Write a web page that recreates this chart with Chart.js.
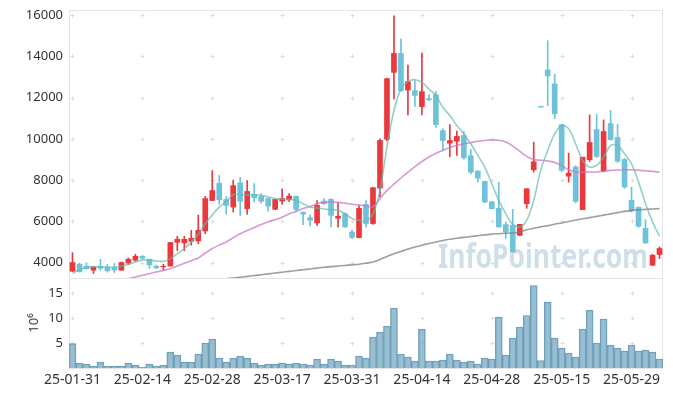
<!DOCTYPE html>
<html>
<head>
<meta charset="utf-8">
<script src="https://cdn.jsdelivr.net/npm/chart.js@4.4.1/dist/chart.umd.min.js"></script>
<style>
  html, body { margin: 0; padding: 0; background: #fff; }
</style>
</head>
<body>
<canvas id="chart" width="673" height="396"></canvas>
<script>
const dates = [
  '25-01-31',
  '25-02-03', '25-02-04', '25-02-05', '25-02-06', '25-02-07', '25-02-10', '25-02-11', '25-02-12', '25-02-13', '25-02-14',
  '25-02-17', '25-02-18', '25-02-19', '25-02-20', '25-02-21', '25-02-24', '25-02-25', '25-02-26', '25-02-27', '25-02-28',
  '25-03-04', '25-03-05', '25-03-06', '25-03-07', '25-03-10', '25-03-11', '25-03-12', '25-03-13', '25-03-14', '25-03-17',
  '25-03-18', '25-03-19', '25-03-20', '25-03-21', '25-03-24', '25-03-25', '25-03-26', '25-03-27', '25-03-28', '25-03-31',
  '25-04-01', '25-04-02', '25-04-03', '25-04-04', '25-04-07', '25-04-08', '25-04-09', '25-04-10', '25-04-11', '25-04-14',
  '25-04-15', '25-04-16', '25-04-17', '25-04-18', '25-04-21', '25-04-22', '25-04-23', '25-04-24', '25-04-25', '25-04-28',
  '25-04-29', '25-04-30', '25-05-02', '25-05-07', '25-05-08', '25-05-09', '25-05-12', '25-05-13', '25-05-14', '25-05-15',
  '25-05-16', '25-05-19', '25-05-20', '25-05-21', '25-05-22', '25-05-23', '25-05-26', '25-05-27', '25-05-28', '25-05-29',
  '25-05-30', '25-06-02', '25-06-04', '25-06-05'
];

const open = [
  3580, 3920, 3820, 3630, 3820, 3770, 3750, 3630, 3970, 4110,
  4300, 4160, 3820, 3790, 3830, 4980, 4950, 5030, 5050, 5530,
  7010, 7840, 7060, 6690, 7870, 6615, 7310, 7210, 7100, 6580,
  6980, 7060, 7210, 6435, 6180, 5920, 6980, 7064, 6150, 6370,
  5480, 5210, 6820, 5890, 7610, 9980, 13225, 14145, 12370, 12340,
  11565, 11950, 12145, 10400, 9790, 9885, 10160, 9180, 8435, 7935,
  6950, 6630, 5840, 5805, 5320, 6855, 8500, 11580, 13340, 12665,
  10690, 8190, 8630, 6565, 8985, 10450, 8435, 10740, 10065, 9000,
  7015, 6675, 5660, 3870, 4390
];
const high = [
  4480, 3980, 3985, 3810, 4160, 3900, 3960, 4030, 4220, 4400,
  4340, 4170, 3880, 3920, 4980, 5270, 5270, 5560, 6300, 7210,
  8460, 8220, 7210, 8000, 8130, 7980, 7830, 7340, 7110, 7070,
  7580, 7350, 7230, 6460, 6320, 7000, 7100, 7100, 6900, 6400,
  5580, 6770, 7000, 7650, 10000, 12950, 15970, 14840, 13580, 12830,
  14165, 12150, 12290, 10480, 10690, 10375, 10350, 9480, 8460, 7950,
  6960, 7900, 5970, 6580, 5855, 7580, 9840, 11580, 14760, 13130,
  10700, 9310, 8700, 9110, 11160, 11180, 10920, 11380, 10700, 9050,
  7660, 6700, 6080, 4400, 4760
];
const low = [
  3560, 3545, 3680, 3470, 3630, 3530, 3510, 3620, 3900, 4060,
  4150, 3710, 3700, 3630, 3820, 4580, 4570, 4840, 4920, 5400,
  6990, 6830, 6350, 6450, 6260, 6340, 6935, 6870, 6500, 6560,
  6820, 6950, 6480, 5840, 5775, 5800, 6830, 5720, 5720, 5700,
  5160, 5200, 5720, 5850, 7180, 9900, 11940, 12300, 11160, 11570,
  11160, 11850, 10560, 9440, 9140, 9190, 9020, 8300, 7900, 6900,
  6600, 5725, 5170, 4513, 5300, 6630, 8385, 11560, 11610, 10970,
  8400, 7900, 6900, 6565, 8900, 9100, 8400, 9950, 8850, 7600,
  6450, 5700, 4920, 3850, 4195
];
const close = [
  4000, 3550, 3700, 3800, 3720, 3600, 3640, 4000, 4160, 4300,
  4210, 3885, 3740, 3820, 4970, 5130, 5130, 5175, 5565, 7100,
  7490, 7050, 6770, 7730, 6970, 7450, 7145, 6970, 6740, 7060,
  7110, 7220, 6580, 6350, 6050, 6770, 6855, 6290, 6240, 5725,
  5220, 6630, 5890, 7630, 9920, 12920, 14145, 12340, 12775, 12110,
  12290, 11890, 10690, 9920, 9920, 10115, 9080, 8385, 8095, 6935,
  6615, 5725, 5480, 4513, 5855, 7580, 8890, 11540, 13050, 11210,
  8470, 8340, 6965, 9110, 9825, 9145, 10355, 9950, 8920, 7660,
  6500, 5760, 4950, 4355, 4680
];

const ma5 = [
  3470, 3660, 3755, 3790, 3790, 3780, 3770, 3820, 3920, 4030,
  4125, 4110, 4080, 4050, 4190, 4430, 4675, 5000, 5370, 5885,
  6300, 6690, 6950, 7290, 7290, 7290, 7290, 7260, 7180, 7100,
  7080, 7050, 7020, 6855, 6695, 6645, 6600, 6565, 6530, 6370,
  6130, 6050, 6015, 6370, 7500, 9600, 11370, 12420, 12775, 12870,
  12740, 12420, 12100, 11530, 11130, 10645, 10240, 9760, 9195, 8630,
  7820, 7015, 6370, 5855, 5725, 6050, 7015, 8470, 9435, 10240,
  10645, 10485, 9760, 8950, 8630, 8710, 9115, 9680, 9680, 9275,
  8790, 7900, 6855, 5970, 5275
];
const ma20 = [
  2950, 2980, 3010, 3040, 3060, 3080, 3110, 3150, 3220, 3300,
  3380, 3460, 3540, 3620, 3700, 3830, 3960, 4090, 4220, 4450,
  4680, 4850, 5000, 5200, 5400, 5550, 5700, 5850, 5980, 6080,
  6200, 6350, 6480, 6620, 6720, 6850, 6920, 6935, 6920, 6880,
  6830, 6790, 6750, 6700, 7100, 7500, 7800, 8100, 8380, 8650,
  8900, 9120, 9300, 9450, 9580, 9680, 9760, 9820, 9880, 9920,
  9950, 9930, 9850, 9650, 9400, 9150, 9000, 8960, 8930, 8850,
  8700, 8500, 8390, 8380, 8390, 8390, 8430, 8470, 8490, 8490,
  8500, 8480, 8450, 8420, 8385
];
const ma60 = [
  2350, 2390, 2430, 2470, 2510, 2550, 2590, 2630, 2670, 2710,
  2750, 2790, 2830, 2870, 2910, 2950, 2990, 3030, 3070, 3110,
  3150, 3180, 3215, 3250, 3290, 3330, 3370, 3410, 3450, 3490,
  3530, 3570, 3610, 3650, 3690, 3730, 3770, 3800, 3830, 3860,
  3890, 3920, 3970, 4030, 4150, 4290, 4430, 4540, 4650, 4750,
  4840, 4920, 5000, 5070, 5130, 5180, 5220, 5260, 5300, 5340,
  5380, 5400, 5420, 5430, 5480, 5590, 5660, 5730, 5790, 5860,
  5920, 5990, 6060, 6120, 6180, 6240, 6300, 6360, 6420, 6480,
  6530, 6560, 6580, 6600, 6615
];

// volume in millions of shares
const volume = [
  4.87, 1.0, 0.8, 0.4, 1.2, 0.4, 0.4, 0.4, 1.0, 0.6,
  0.2, 0.8, 0.4, 0.6, 3.2, 2.6, 1.2, 1.2, 2.8, 5.0,
  5.8, 2.0, 1.2, 2.0, 2.4, 2.0, 1.0, 0.6, 0.8, 0.8,
  1.0, 0.8, 1.0, 0.8, 0.6, 1.8, 0.8, 1.8, 1.4, 0.6,
  0.6, 2.4, 2.0, 6.2, 7.2, 8.4, 12.0, 2.8, 2.2, 1.4,
  7.8, 1.4, 1.4, 1.6, 2.8, 1.6, 1.2, 1.4, 0.8, 2.0,
  1.8, 10.2, 2.6, 6.0, 8.2, 10.5, 16.5, 1.5, 13.2, 6.0,
  4.0, 3.0, 2.2, 7.8, 11.6, 5.0, 9.8, 4.6, 4.0, 3.4,
  4.6, 3.4, 3.6, 3.2, 1.8
];

const priceTicks = [4000, 6000, 8000, 10000, 12000, 14000, 16000];
const volumeTicks = [5, 10, 15];

const FONT = 'Noto Sans';
const RED = '#ea383c';
const BLUE = '#6ec3db';

const candleColors = close.map((c, i) => c >= open[i] ? RED : BLUE);

// clip price datasets to the upper pane
const paneClip = {
  id: 'paneClip',
  beforeDatasetDraw(chart, args) {
    const ds = chart.data.datasets[args.index];
    const s = chart.scales[ds.yAxisID];
    const area = chart.chartArea;
    chart.ctx.save();
    chart.ctx.beginPath();
    chart.ctx.rect(area.left, s.top, area.right - area.left, s.bottom - s.top);
    chart.ctx.clip();
  },
  afterDatasetDraw(chart) {
    chart.ctx.restore();
  }
};

// pane frames and the little + marks at tick crossings
const frames = {
  id: 'frames',
  beforeDatasetsDraw(chart) {
    const { ctx, scales: { x, y, yv } } = chart;
    ctx.save();
    ctx.lineWidth = 1;
    ctx.strokeStyle = '#e4e4e4';
    ctx.strokeRect(Math.round(x.left) + 0.5, Math.round(y.top) + 0.5, Math.round(x.width) - 1, Math.round(y.height));
    ctx.strokeRect(Math.round(x.left) + 0.5, Math.round(yv.top) + 0.5, Math.round(x.width) - 1, Math.round(yv.height));
    ctx.strokeStyle = '#dddddd';
    const cross = (px, py) => {
      px = Math.round(px) + 0.5;
      py = Math.round(py) + 0.5;
      ctx.beginPath();
      ctx.moveTo(px - 2, py); ctx.lineTo(px + 2, py);
      ctx.moveTo(px, py - 2); ctx.lineTo(px, py + 2);
      ctx.stroke();
    };
    for (let i = 0; i < dates.length; i += 10) {
      const px = x.getPixelForValue(i);
      priceTicks.forEach(v => cross(px, y.getPixelForValue(v)));
      volumeTicks.forEach(v => cross(px, yv.getPixelForValue(v)));
    }
    ctx.restore();
  }
};

const watermark = {
  id: 'watermark',
  afterDatasetsDraw(chart) {
    const { ctx, scales: { x, y } } = chart;
    const text = 'InfoPointer.com';
    ctx.save();
    ctx.font = 'bold 34px "' + FONT + '"';
    ctx.fillStyle = 'rgba(149, 184, 205, 0.45)';
    ctx.textBaseline = 'alphabetic';
    const w = ctx.measureText(text).width;
    const right = x.right - 15;
    const wanted = 210;
    ctx.translate(right - wanted, y.bottom - 10);
    ctx.scale(wanted / w, 1);
    ctx.fillText(text, 0, 0);
    ctx.restore();
  }
};

function lineSet(data, color) {
  return {
    type: 'line',
    data: data,
    yAxisID: 'y',
    borderColor: color,
    borderWidth: 1.6,
    pointRadius: 0,
    tension: 0.35,
    order: 1
  };
}

const tickFont = { family: FONT, size: 13 };
const plainNumber = v => String(v);
const noPadY = s => { s.width = 69; s.paddingTop = 0; s.paddingBottom = 0; };

const config = {
  type: 'bar',
  data: {
    labels: dates,
    datasets: [
      {
        data: low.map((l, i) => [l, high[i]]),
        yAxisID: 'y',
        backgroundColor: candleColors,
        barThickness: 1,
        grouped: false,
        order: 3
      },
      {
        data: open.map((o, i) => [o, close[i]]),
        yAxisID: 'y',
        backgroundColor: candleColors,
        barThickness: 5,
        grouped: false,
        order: 2
      },
      lineSet(ma5, 'rgba(100, 188, 172, 0.7)'),
      lineSet(ma20, 'rgba(200, 120, 195, 0.75)'),
      lineSet(ma60, 'rgba(125, 125, 125, 0.75)'),
      {
        data: volume,
        yAxisID: 'yv',
        backgroundColor: 'rgba(125, 172, 196, 0.78)',
        borderColor: 'rgba(95, 150, 178, 0.9)',
        borderWidth: 1,
        barPercentage: 1,
        categoryPercentage: 1,
        grouped: false,
        order: 4
      }
    ]
  },
  options: {
    responsive: false,
    animation: false,
    devicePixelRatio: 1,
    layout: { padding: { top: 10, right: 10, left: 0, bottom: 0 } },
    plugins: {
      legend: { display: false },
      tooltip: { enabled: false }
    },
    scales: {
      x: {
        offset: true,
        grid: { display: false, drawTicks: false },
        border: { display: false },
        ticks: {
          autoSkip: false,
          maxRotation: 0,
          color: '#333',
          font: { family: FONT, size: 14 },
          padding: 4,
          callback: (v, i) => i % 10 === 0 ? dates[i] : ''
        },
        afterFit: s => { s.height = 28; s.paddingLeft = 0; s.paddingRight = 0; }
      },
      yv: {
        position: 'left',
        stack: 'panes',
        stackWeight: 90,
        min: 0,
        max: 18,
        afterBuildTicks: s => { s.ticks = volumeTicks.map(v => ({ value: v })); },
        grid: { display: false, drawTicks: false },
        border: { display: false },
        ticks: { color: '#333', font: tickFont, padding: 6, callback: plainNumber },
        title: {
          display: true,
          text: '10⁶',
          color: '#333',
          font: { family: FONT, size: 13 },
          padding: { top: 26, bottom: 0 }
        },
        afterFit: noPadY
      },
      y: {
        position: 'left',
        stack: 'panes',
        stackWeight: 268,
        min: 3250,
        max: 16250,
        afterBuildTicks: s => { s.ticks = priceTicks.map(v => ({ value: v })); },
        grid: { display: false, drawTicks: false },
        border: { display: false },
        ticks: { color: '#333', font: tickFont, padding: 6, callback: plainNumber },
        afterFit: noPadY
      }
    }
  },
  plugins: [paneClip, frames, watermark]
};

new Chart(document.getElementById('chart'), config);
</script>
</body>
</html>
